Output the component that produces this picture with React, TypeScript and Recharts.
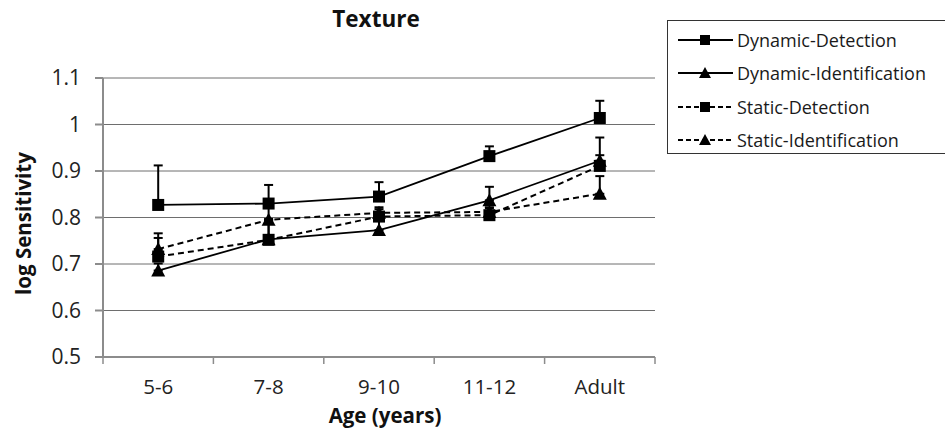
import {
  LineChart,
  Line,
  XAxis,
  YAxis,
  CartesianGrid,
  Legend,
  ErrorBar,
} from "recharts";

const ages = ["5-6", "7-8", "9-10", "11-12", "Adult"];

const dynamicDetection = [0.827, 0.83, 0.845, 0.932, 1.014];
const dynamicDetectionErr = [0.085, 0.04, 0.031, 0.021, 0.037];

const dynamicIdentification = [0.686, 0.753, 0.773, 0.837, 0.922];
const dynamicIdentificationErr = [0.015, 0.04, 0.02, 0.029, 0.05];

const staticDetection = [0.716, 0.752, 0.802, 0.805, 0.911];
const staticDetectionErr = [0.04, 0.045, 0.016, 0.015, 0.023];

const staticIdentification = [0.732, 0.795, 0.81, 0.812, 0.851];
const staticIdentificationErr = [0.034, 0.03, 0.012, 0.01, 0.038];

const yTicks = [0.5, 0.6, 0.7, 0.8, 0.9, 1, 1.1];

const data = ages.map((age, i) => ({
  age,
  dd: dynamicDetection[i],
  ddErr: [0, dynamicDetectionErr[i]],
  di: dynamicIdentification[i],
  diErr: [0, dynamicIdentificationErr[i]],
  sd: staticDetection[i],
  sdErr: [0, staticDetectionErr[i]],
  si: staticIdentification[i],
  siErr: [0, staticIdentificationErr[i]],
}));

const FONT = "'Open Sans', sans-serif";
const GRID = "#6e6e6e";
const AXIS = "#8c8c8c";
const X_TICK_MARGIN = 22;

const Square = (props: any) => {
  const { cx, cy } = props;
  if (cx == null || cy == null) return null;
  return <rect x={cx - 6} y={cy - 6} width={12} height={12} fill="#000" />;
};

const Triangle = (props: any) => {
  const { cx, cy } = props;
  if (cx == null || cy == null) return null;
  return (
    <path
      d={`M${cx},${cy - 7} L${cx + 7},${cy + 6} L${cx - 7},${cy + 6} Z`}
      fill="#000"
    />
  );
};

// category label plus Excel-style tick marks between the categories
const AgeTick = (props: any) => {
  const { x, y, payload, index, visibleTicksCount, width } = props;
  const band = width / visibleTicksCount;
  const axisY = y - X_TICK_MARGIN;
  return (
    <g>
      <line x1={x - band / 2} y1={axisY} x2={x - band / 2} y2={axisY + 7} stroke={AXIS} strokeWidth={1.5} />
      {index === visibleTicksCount - 1 && (
        <line x1={x + band / 2} y1={axisY} x2={x + band / 2} y2={axisY + 7} stroke={AXIS} strokeWidth={1.5} />
      )}
      <text
        x={x}
        y={y}
        dy="0.75em"
        textAnchor="middle"
        fontFamily={FONT}
        fontSize={20.5}
        fill="#222"
      >
        {payload.value}
      </text>
    </g>
  );
};

const legendItems = [
  { name: "Dynamic-Detection", dashed: false, shape: "square" },
  { name: "Dynamic-Identification", dashed: false, shape: "triangle" },
  { name: "Static-Detection", dashed: true, shape: "square" },
  { name: "Static-Identification", dashed: true, shape: "triangle" },
];

const LegendBox = () => (
  <div
    style={{
      border: "1px solid #333",
      width: 290,
      height: 134,
      boxSizing: "border-box",
      paddingTop: 2,
      fontFamily: FONT,
      fontSize: 18,
      color: "#1a1a1a",
    }}
  >
    {legendItems.map((it) => (
      <div
        key={it.name}
        style={{ display: "flex", alignItems: "center", height: 33.5 }}
      >
        <svg width={69} height={20} style={{ flex: "none" }}>
          <line
            x1={10}
            y1={10}
            x2={65}
            y2={10}
            stroke="#000"
            strokeWidth={1.8}
            strokeDasharray={it.dashed ? "5 3" : undefined}
          />
          {it.shape === "square" ? (
            <rect x={32} y={5} width={10} height={10} fill="#000" />
          ) : (
            <path d="M37,4 L43,15 L31,15 Z" fill="#000" />
          )}
        </svg>
        <span>{it.name}</span>
      </div>
    ))}
  </div>
);

const YLabel = (props: any) => {
  const { viewBox } = props;
  const cy = viewBox.y + viewBox.height / 2 + 6;
  return (
    <text
      x={23}
      y={cy}
      transform={`rotate(-90, 23, ${cy})`}
      textAnchor="middle"
      dominantBaseline="central"
      fontFamily={FONT}
      fontWeight={700}
      fontSize={20.5}
      fill="#111"
    >
      log Sensitivity
    </text>
  );
};

const XLabel = (props: any) => {
  const { viewBox } = props;
  return (
    <text
      x={viewBox.x + viewBox.width / 2 + 6}
      y={423}
      textAnchor="middle"
      fontFamily={FONT}
      fontWeight={700}
      fontSize={20.5}
      fill="#111"
    >
      Age (years)
    </text>
  );
};

export default function App() {
  return (
    <div
      style={{
        position: "absolute",
        left: 0,
        top: 0,
        width: 945,
        height: 438,
        overflow: "hidden",
        background: "#fff",
      }}
    >
      <div
        style={{
          position: "absolute",
          left: 276,
          width: 200,
          top: 3,
          textAlign: "center",
          fontFamily: FONT,
          fontWeight: 700,
          fontSize: 22.5,
          color: "#111",
          zIndex: 2,
        }}
      >
        Texture
      </div>
      <LineChart
        width={945}
        height={438}
        data={data}
        margin={{ top: 78, right: 290, bottom: 51, left: 13 }}
      >
        <CartesianGrid vertical={false} stroke={GRID} strokeWidth={1} />
        <XAxis
          dataKey="age"
          scale="band"
          interval={0}
          stroke={AXIS}
          strokeWidth={2}
          tickLine={false}
          tickSize={0}
          tickMargin={X_TICK_MARGIN}
          height={30}
          tick={<AgeTick />}
          label={<XLabel />}
        />
        <YAxis
          domain={[0.5, 1.1]}
          ticks={yTicks}
          width={90}
          tickSize={8}
          tickMargin={14}
          stroke={AXIS}
          strokeWidth={2}
          tick={{ fontFamily: FONT, fontSize: 21, fill: "#222" }}
          tickFormatter={(v: number) => String(v)}
          label={<YLabel />}
        />
        <YAxis
          yAxisId="right"
          orientation="right"
          domain={[0.5, 1.1]}
          width={0}
          tick={false}
          tickLine={false}
          stroke={AXIS}
          strokeWidth={2}
        />
        <Legend
          layout="horizontal"
          verticalAlign="middle"
          align="center"
          content={<LegendBox />}
          wrapperStyle={{ position: "absolute", left: 667, top: 20, width: 290 }}
        />
        <Line
          name="Static-Identification"
          dataKey="si"
          stroke="#000"
          strokeWidth={2}
          strokeDasharray="6 4"
          dot={<Triangle />}
          isAnimationActive={false}
        >
          <ErrorBar dataKey="siErr" width={4.5} stroke="#000" strokeWidth={2} direction="y" />
        </Line>
        <Line
          name="Static-Detection"
          dataKey="sd"
          stroke="#000"
          strokeWidth={2}
          strokeDasharray="6 4"
          dot={<Square />}
          isAnimationActive={false}
        >
          <ErrorBar dataKey="sdErr" width={4.5} stroke="#000" strokeWidth={2} direction="y" />
        </Line>
        <Line
          name="Dynamic-Identification"
          dataKey="di"
          stroke="#000"
          strokeWidth={1.8}
          dot={<Triangle />}
          isAnimationActive={false}
        >
          <ErrorBar dataKey="diErr" width={4.5} stroke="#000" strokeWidth={2} direction="y" />
        </Line>
        <Line
          name="Dynamic-Detection"
          dataKey="dd"
          stroke="#000"
          strokeWidth={1.8}
          dot={<Square />}
          isAnimationActive={false}
        >
          <ErrorBar dataKey="ddErr" width={4.5} stroke="#000" strokeWidth={2} direction="y" />
        </Line>
      </LineChart>
    </div>
  );
}
